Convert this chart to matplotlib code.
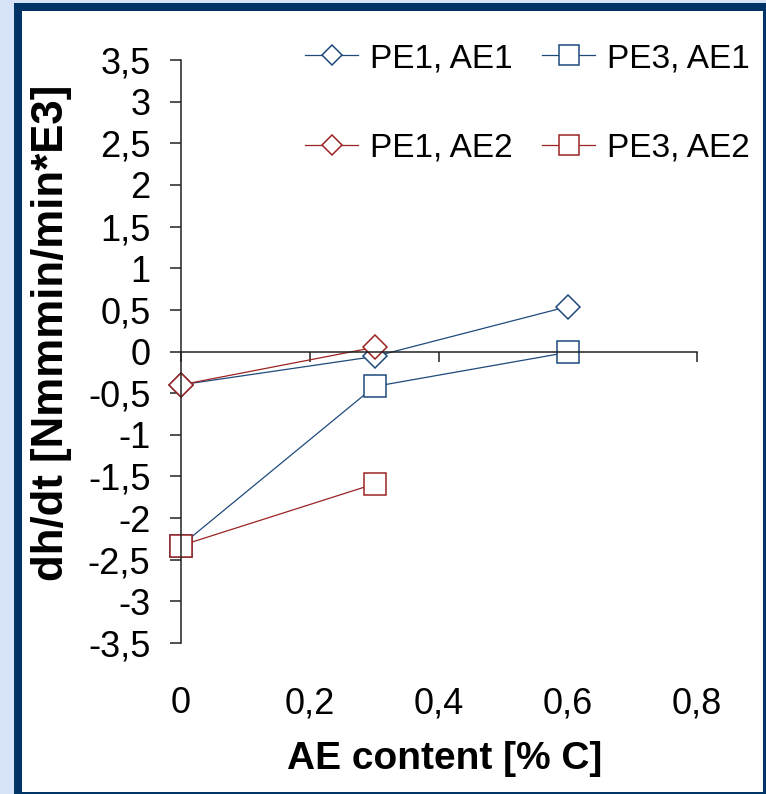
import matplotlib
matplotlib.use("Agg")
import matplotlib.pyplot as plt
from matplotlib.patches import Rectangle
import numpy as np

plt.rcParams['font.family'] = ['Liberation Sans', 'DejaVu Sans']

# AE content [% C]
ae_content = [0, 0.3, 0.6]
ae_content_ae2 = [0, 0.3]

# dh/dt values per material / additive combination
pe1_ae1 = [-0.40, -0.06, 0.54]
pe3_ae1 = [-2.33, -0.42, -0.01]
pe1_ae2 = [-0.40, 0.05]
pe3_ae2 = [-2.33, -1.59]

series_labels = ["PE1, AE1", "PE3, AE1", "PE1, AE2", "PE3, AE2"]

y_ticks = np.arange(-3.5, 3.51, 0.5)
x_ticks = [0, 0.2, 0.4, 0.6, 0.8]

W, H = 766, 794
fig = plt.figure(figsize=(W / 100, H / 100), dpi=100)
fig.patch.set_facecolor('#D6E3F8')

def fx(px):
    return px / W

def fy(py):
    return 1 - py / H

# navy frame and white panel behind the chart
fig.patches.append(Rectangle((fx(14), -0.05), 1.1, fy(3) + 0.05,
                             transform=fig.transFigure, facecolor='#003366',
                             edgecolor='none', zorder=-2))
fig.patches.append(Rectangle((fx(22), fy(791.5)), fx(762.5) - fx(22), fy(11) - fy(791.5),
                             transform=fig.transFigure, facecolor='white',
                             edgecolor='none', zorder=-1))

ax = fig.add_axes([fx(181), fy(643), fx(697) - fx(181), fy(60) - fy(643)])
ax.patch.set_alpha(0)
ax.set_zorder(1)

blue = '#1F4A7C'
red = '#9B2323'

lw = 0.9
mew = 1.1
common = dict(linewidth=lw, markeredgewidth=mew, markerfacecolor='white', clip_on=False)
h1, = ax.plot(ae_content, pe1_ae1, color=blue, marker='D', markersize=12, label=series_labels[0], **common)
h2, = ax.plot(ae_content, pe3_ae1, color=blue, marker='s', markersize=16.5, label=series_labels[1], **common)
h3, = ax.plot(ae_content_ae2, pe1_ae2, color=red, marker='D', markersize=12, label=series_labels[2], **common)
h4, = ax.plot(ae_content_ae2, pe3_ae2, color=red, marker='s', markersize=16.5, label=series_labels[3], **common)

ax.set_xlim(0, 0.8)
ax.set_ylim(-3.5, 3.5)

for side in ['top', 'right']:
    ax.spines[side].set_visible(False)
ax.spines['bottom'].set_position(('data', 0))
for side in ['left', 'bottom']:
    ax.spines[side].set_color('#222222')
    ax.spines[side].set_linewidth(1.1)

def comma(v):
    return ('%g' % v).replace('.', ',')

ax.set_yticks(y_ticks)
ax.set_yticklabels([comma(v) for v in y_ticks])
ax.tick_params(axis='y', direction='out', length=8, width=1.1, color='#222222',
               pad=14, labelsize=26)

ax.set_xticks(x_ticks)
ax.tick_params(axis='x', direction='out', length=7.5, width=1.1, color='#222222',
               labelbottom=False)

sec = ax.secondary_xaxis(0.0)
sec.set_xticks(x_ticks)
sec.set_xticklabels([comma(v) for v in x_ticks])
sec.spines['bottom'].set_visible(False)
sec.tick_params(axis='x', length=0, pad=31, labelsize=26)

fig.text(fx(52), fy(333), 'dh/dt [Nmmmin/min*E3]', rotation=90, ha='center', va='center',
         fontsize=31.5, fontweight='bold')
fig.text(fx(445), fy(759), 'AE content [% C]', ha='center', va='center',
         fontsize=28, fontweight='bold')

leg = ax.legend([h1, h3, h2, h4], [series_labels[0], series_labels[2], series_labels[1], series_labels[3]],
                ncol=2, loc='upper left', bbox_to_anchor=(fx(305), fy(43)),
                bbox_transform=fig.transFigure, frameon=False, fontsize=24,
                borderpad=0, borderaxespad=0, labelspacing=1.76, handlelength=1.6,
                handletextpad=0.36, columnspacing=0.87, markerscale=0.85)

fig.savefig('out.png', dpi=100, facecolor=fig.get_facecolor())
